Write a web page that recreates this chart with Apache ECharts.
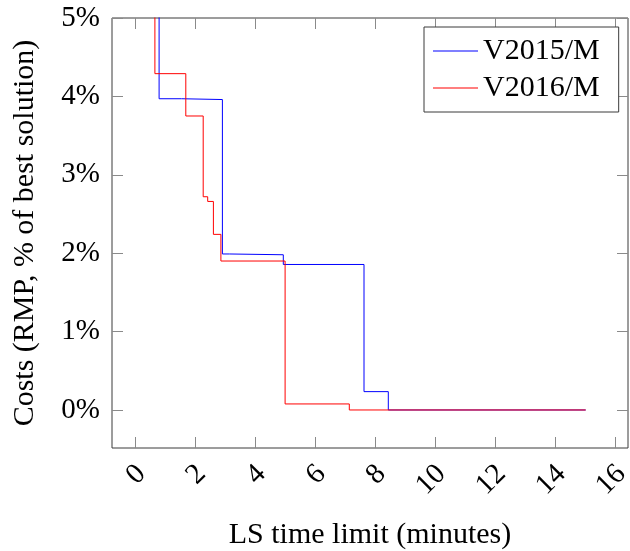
<!DOCTYPE html>
<html>
<head>
<meta charset="utf-8">
<script src="https://cdn.jsdelivr.net/npm/echarts@6/dist/echarts.min.js"></script>
<style>html,body{margin:0;padding:0;background:#fff;}#c{width:630px;height:551px;}</style>
</head>
<body>
<div id="c"></div>
<script>
// Data (x in minutes, y in % of best solution); step holds value until next x
const blueName = 'V2015/M';
const blueX = [0.6, 0.78, 1.53, 2.89, 3.12, 4.92, 7.61, 8.42, 15.0];
const blueY = [6.0, 3.97, 3.96, 1.99, 1.98, 1.856, 0.234, 0.0, 0.0];
const redName = 'V2016/M';
const redX = [0.5, 0.64, 1.67, 2.25, 2.40, 2.59, 2.84, 4.98, 7.12, 15.0];
const redY = [6.0, 4.29, 3.75, 2.72, 2.66, 2.24, 1.90, 0.077, 0.0, 0.0];
const xTicks = [0, 2, 4, 6, 8, 10, 12, 14, 16];
const yTicks = [0, 1, 2, 3, 4, 5];

const FONT = 'Liberation Serif';
const zip = (xs, ys) => xs.map((x, i) => [x, ys[i]]);

const xMin = -0.79, xMax = 16.41, yMin = -0.485, yMax = 5.0;
const tickStyle = { color: '#8a8a8a', width: 1 };

const chart = echarts.init(document.getElementById('c'), null, { renderer: 'canvas' });
chart.setOption({
  animation: false,
  backgroundColor: '#fff',
  grid: { left: 112, right: 2, top: 18, height: 430, containLabel: false, outerBoundsMode: 'none',
    show: true, borderColor: '#3a3a3a', borderWidth: 1, backgroundColor: 'transparent' },
  legend: {
    left: 424, top: 27,
    orient: 'vertical',
    padding: [9, 19, 9, 9],
    itemGap: 7,
    itemWidth: 45, itemHeight: 1,
    icon: 'rect',
    borderColor: '#3a3a3a', borderWidth: 1, backgroundColor: '#fff',
    textStyle: { fontFamily: FONT, fontSize: 30, lineHeight: 30, color: '#000' },
    data: [blueName, redName]
  },
  xAxis: [{
    type: 'value', min: xMin, max: xMax,
    name: 'LS time limit (minutes)', nameLocation: 'middle', nameGap: 72,
    nameTextStyle: { fontFamily: FONT, fontSize: 30, color: '#000' },
    axisLine: { show: false, onZero: false },
    axisTick: { show: true, inside: true, length: 11, lineStyle: tickStyle, customValues: xTicks },
    axisLabel: { show: true, customValues: xTicks, rotate: 45, align: 'right', verticalAlign: 'top', lineHeight: 16, margin: 16,
      fontFamily: FONT, fontSize: 29, color: '#000' },
    splitLine: { show: false }
  }, {
    type: 'value', min: xMin, max: xMax, position: 'top',
    axisLine: { show: false, onZero: false },
    axisTick: { show: true, inside: true, length: 11, lineStyle: tickStyle, customValues: xTicks },
    axisLabel: { show: false },
    splitLine: { show: false }
  }],
  yAxis: [{
    type: 'value', min: yMin, max: yMax,
    name: 'Costs (RMP, % of best solution)', nameLocation: 'middle', nameGap: 72,
    nameTextStyle: { fontFamily: FONT, fontSize: 30, color: '#000' },
    axisLine: { show: false, onZero: false },
    axisTick: { show: true, inside: true, length: 11, lineStyle: tickStyle, customValues: yTicks },
    axisLabel: { show: true, customValues: yTicks, formatter: v => v + '%', margin: 12,
      fontFamily: FONT, fontSize: 29, color: '#000' },
    splitLine: { show: false }
  }, {
    type: 'value', min: yMin, max: yMax, position: 'right',
    axisLine: { show: false, onZero: false },
    axisTick: { show: true, inside: true, length: 11, lineStyle: tickStyle, customValues: yTicks },
    axisLabel: { show: false },
    splitLine: { show: false }
  }],
  series: [{
    name: blueName, type: 'line', step: 'end', showSymbol: false, symbol: 'none', clip: true,
    color: '#0000ff', lineStyle: { color: '#0000ff', width: 1 },
    data: zip(blueX, blueY)
  }, {
    name: redName, type: 'line', step: 'end', showSymbol: false, symbol: 'none', clip: true,
    color: '#ff0000', lineStyle: { color: '#ff0000', width: 1 },
    data: zip(redX, redY)
  }]
});
</script>
</body>
</html>
